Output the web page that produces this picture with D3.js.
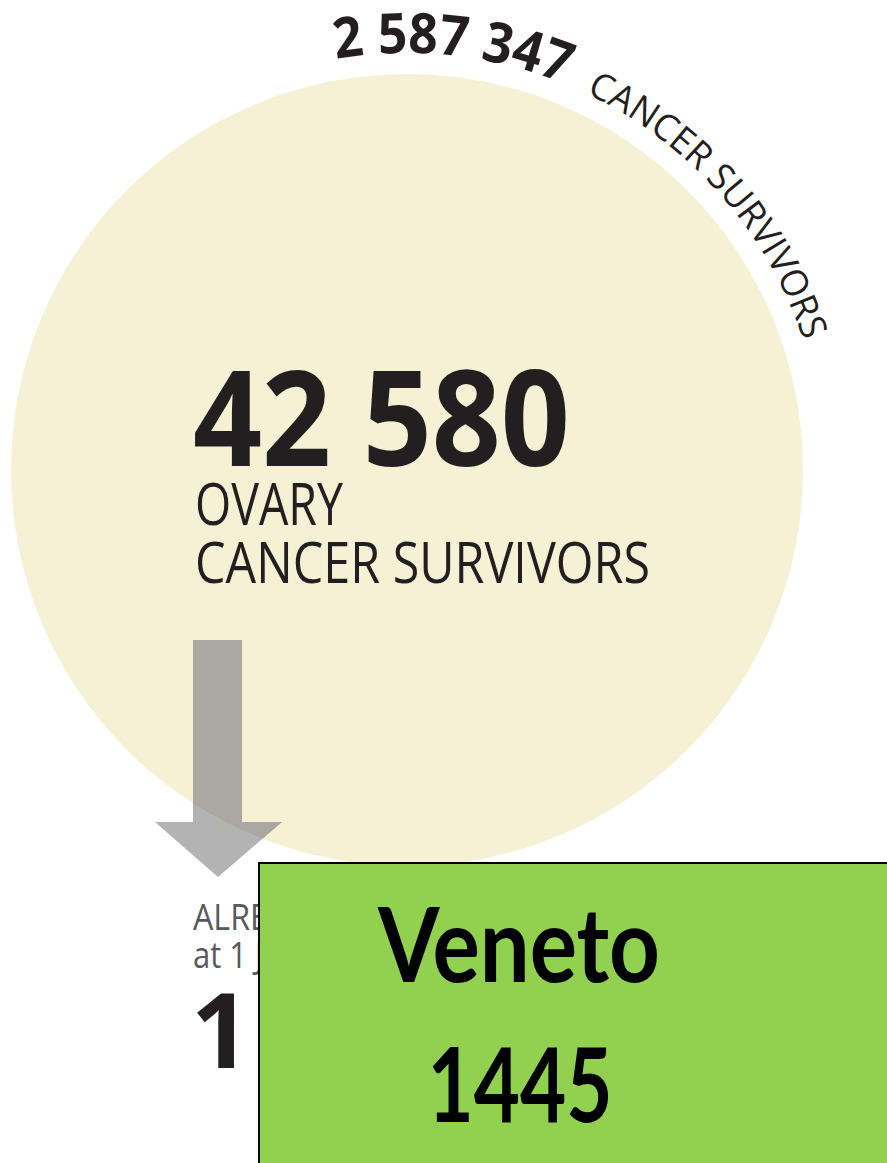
<!DOCTYPE html>
<html>
<head>
<meta charset="utf-8">
<script src="https://cdn.jsdelivr.net/npm/d3@7"></script>
<style>
  body { margin: 0; background: #fff; }
  svg { display: block; }
</style>
</head>
<body>
<div id="chart"></div>
<script>
// Datos

const totalLabel = ["CANCER SURVIVORS"]
const totalValue = [2587347]
const siteLabels = ["OVARY", "CANCER SURVIVORS"]
const siteValue = [42580]
const curedLabels = ["ALREADY CURED", "at 1 January 2010"]
const curedValue = ["1"]
const regionName = ["Veneto"]
const regionValue = [1445]

// Constantes

const width = 887
const height = 1163
const cx = 407, cy = 470
const ink = "#231f20"

const fmt = v => d3.format(",")(v).replace(/,/g, " ")

const svg = d3.select("#chart").append("svg").attr("width", width).attr("height", height)
const defs = svg.append("defs")

// escala radio (área proporcional)
const r = d3.scaleSqrt().domain([0, siteValue[0]]).range([0, 396])

// circulo
svg.append("circle")
    .attr("cx", cx)
    .attr("cy", cy)
    .attr("r", r(siteValue[0]))
    .attr("fill", "#f6f0d4")

defs.append("clipPath").attr("id", "inCircle")
    .append("circle").attr("cx", cx).attr("cy", cy).attr("r", r(siteValue[0]))

defs.append("clipPath").attr("id", "leftOfBox")
    .append("rect").attr("x", 0).attr("y", 850).attr("width", 259).attr("height", 313)

// texto curvo (arco exterior)
const deg = Math.PI / 180
const arcR = 417
const a0 = -9.8, a1 = 80
const arcPath = d3.path()
arcPath.arc(cx, cy, arcR, (a0 - 90) * deg, (a1 - 90) * deg)
defs.append("path").attr("id", "arcText").attr("d", arcPath.toString())

const arcLen = d => d * deg * arcR

svg.append("text").attr("fill", ink)
    .style("font-family", "Open Sans").style("font-weight", 700).style("font-size", "56px")
  .append("textPath")
    .attr("href", "#arcText")
    .attr("startOffset", 0)
    .attr("textLength", arcLen(32))
    .attr("lengthAdjust", "spacingAndGlyphs")
    .text(fmt(totalValue[0]))

svg.append("text").attr("fill", ink)
    .style("font-family", "Open Sans").style("font-size", "37px")
  .append("textPath")
    .attr("href", "#arcText")
    .attr("startOffset", arcLen(35.2))
    .attr("textLength", arcLen(46.5))
    .attr("lengthAdjust", "spacingAndGlyphs")
    .text(totalLabel[0])

// número central
svg.append("text")
    .attr("x", 193).attr("y", 466)
    .attr("fill", ink)
    .attr("textLength", 377).attr("lengthAdjust", "spacingAndGlyphs")
    .style("font-family", "Open Sans").style("font-weight", 700).style("font-size", "132px")
    .text(fmt(siteValue[0]))

svg.append("text")
    .attr("x", 195).attr("y", 525)
    .attr("fill", ink)
    .attr("textLength", 148).attr("lengthAdjust", "spacingAndGlyphs")
    .style("font-family", "Open Sans").style("font-size", "58px")
    .text(siteLabels[0])

svg.append("text")
    .attr("x", 195).attr("y", 583)
    .attr("fill", ink)
    .attr("textLength", 455).attr("lengthAdjust", "spacingAndGlyphs")
    .style("font-family", "Open Sans").style("font-size", "56px")
    .text(siteLabels[1])

// flecha (más oscura dentro del circulo)
const arrowShape = g => {
    g.append("rect")
        .attr("x", 193).attr("y", 640)
        .attr("width", 49).attr("height", 184)
    g.append("path")
        .attr("d", "M155,822 L282,822 L218,877 Z")
}
svg.append("g").attr("fill", "#b3b3b3").call(arrowShape)
svg.append("g").attr("fill", "#aaa9a1").attr("clip-path", "url(#inCircle)").call(arrowShape)

// texto inferior (parcialmente tapado por la caja)
const lower = svg.append("g").attr("clip-path", "url(#leftOfBox)")

lower.append("text")
    .attr("x", 193).attr("y", 930)
    .attr("fill", "#58595b")
    .attr("textLength", 250).attr("lengthAdjust", "spacingAndGlyphs")
    .style("font-family", "Open Sans").style("font-size", "37px")
    .text(curedLabels[0])

lower.append("text")
    .attr("x", 193).attr("y", 968)
    .attr("fill", "#58595b")
    .attr("textLength", 250).attr("lengthAdjust", "spacingAndGlyphs")
    .style("font-family", "Open Sans").style("font-size", "37px")
    .text(curedLabels[1])

lower.append("text")
    .attr("x", 191).attr("y", 1068)
    .attr("fill", ink)
    .style("font-family", "Open Sans").style("font-weight", 700).style("font-size", "104px")
    .text(curedValue[0])

// caja verde
svg.append("rect")
    .attr("x", 259).attr("y", 863)
    .attr("width", 700).attr("height", 400)
    .attr("fill", "#92d050")
    .attr("stroke", "#000")
    .attr("stroke-width", 2)

svg.append("text")
    .attr("x", 519).attr("y", 982)
    .attr("text-anchor", "middle")
    .attr("textLength", 282).attr("lengthAdjust", "spacingAndGlyphs")
    .style("font-family", "Lato").style("font-weight", 700).style("font-size", "104px")
    .text(regionName[0])

svg.append("text")
    .attr("x", 520).attr("y", 1122)
    .attr("text-anchor", "middle")
    .attr("textLength", 185).attr("lengthAdjust", "spacingAndGlyphs")
    .style("font-family", "Lato").style("font-weight", 700).style("font-size", "104px")
    .text(regionValue[0])
</script>
</body>
</html>
